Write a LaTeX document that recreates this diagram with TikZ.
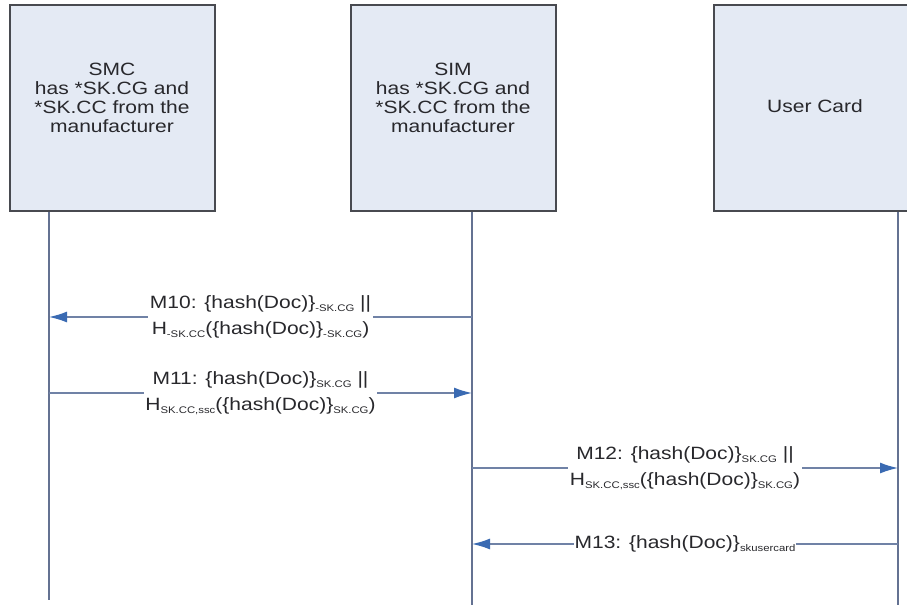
\documentclass[tikz,border=0pt]{standalone}
\usepackage{fontspec}
\setmainfont[FakeStretch=1.18]{Liberation Sans}
\usetikzlibrary{arrows.meta}

\definecolor{boxfill}{RGB}{228,234,244}
\definecolor{boxline}{RGB}{72,74,80}
\definecolor{lifeclr}{RGB}{100,114,146}
\definecolor{msgclr}{RGB}{112,130,166}
\definecolor{headclr}{RGB}{58,106,178}
\definecolor{txt}{RGB}{40,40,44}

% small lowered index text used in the message labels
\newcommand{\lowtxt}[1]{\raisebox{-2.6pt}{\fontsize{9.6}{10}\selectfont #1}}

\begin{document}
\begin{tikzpicture}[x=1pt,y=-1pt,
  actor/.style={draw=boxline, line width=2pt, fill=boxfill,
    minimum width=205pt, minimum height=206pt, inner sep=0pt},
  boxtext/.style={text=txt, align=center, inner sep=0pt,
    font=\fontsize{17.8}{19}\selectfont},
  life/.style={draw=lifeclr, line width=1.3pt},
  msg/.style={draw=msgclr, line width=1.4pt,
    -{Latex[length=18pt,width=11pt,fill=headclr,color=headclr]}},
  msgtext/.style={fill=white, text=txt, align=center, inner sep=1.5pt,
    font=\fontsize{17.8}{26}\selectfont}
]
\clip (0,0) rectangle (907,611);
\fill[white] (0,0) rectangle (907,611);

% participants
\node[actor] (smc) at (112.5,108) {};
\node[actor] (sim) at (453,108) {};
\node[actor] (card) at (816.5,108) {};
\node[boxtext] (smct) at (112,98) {SMC\\has *SK.CG and\\*SK.CC from the\\manufacturer};
\node[boxtext] (simt) at (453,98) {SIM\\has *SK.CG and\\*SK.CC from the\\manufacturer};
\node[boxtext] (cardt) at (815,106) {User Card};

% lifelines
\coordinate (smcEnd) at (49,600);
\coordinate (simEnd) at (472,605);
\coordinate (cardEnd) at (898,605);
\draw[life] (smc.south -| smcEnd) -- (smcEnd);
\draw[life] (sim.south -| simEnd) -- (simEnd);
\draw[life] (card.south -| cardEnd) -- (cardEnd);

% message end points on the lifelines
\coordinate (m10a) at (472,317);  \coordinate (m10b) at (49,317);
\coordinate (m11a) at (49,393);   \coordinate (m11b) at (472,393);
\coordinate (m12a) at (472,468);  \coordinate (m12b) at (898,468);
\coordinate (m13a) at (898,544);  \coordinate (m13b) at (472,544);

% messages
\draw[msg] (m10a) -- node[msgtext] (l10)
  {M10: \{hash(Doc)\}\lowtxt{-SK.CG} ||\\H\lowtxt{-SK.CC}(\{hash(Doc)\}\lowtxt{-SK.CG})} (m10b);
\draw[msg] (m11a) -- node[msgtext] (l11)
  {M11: \{hash(Doc)\}\lowtxt{SK.CG} ||\\H\lowtxt{SK.CC,ssc}(\{hash(Doc)\}\lowtxt{SK.CG})} (m11b);
\draw[msg] (m12a) -- node[msgtext] (l12)
  {M12: \{hash(Doc)\}\lowtxt{SK.CG} ||\\H\lowtxt{SK.CC,ssc}(\{hash(Doc)\}\lowtxt{SK.CG})} (m12b);
\draw[msg] (m13a) -- node[msgtext, inner sep=1pt] (l13)
  {M13: \{hash(Doc)\}\lowtxt{skusercard}} (m13b);
\end{tikzpicture}
\end{document}
